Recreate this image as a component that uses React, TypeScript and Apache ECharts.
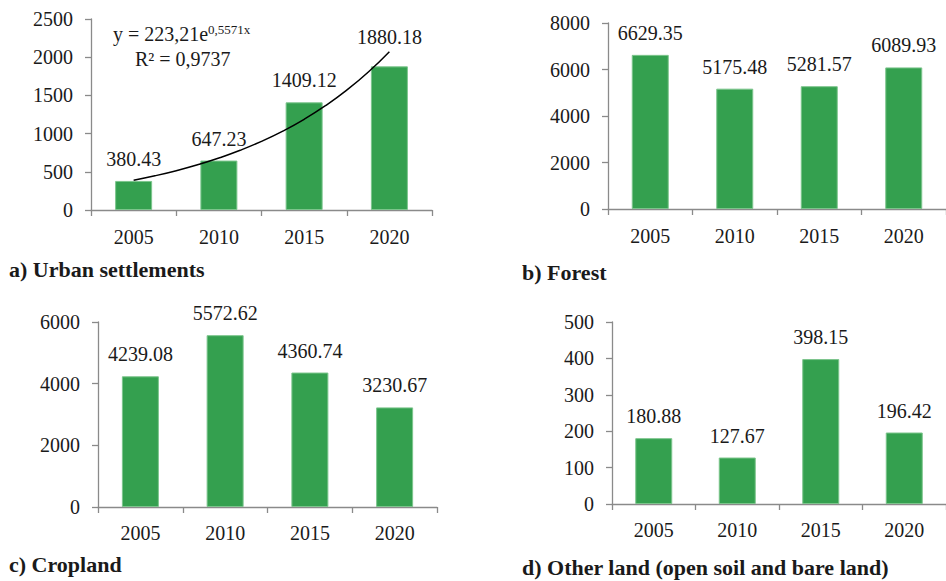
import React, { useEffect, useRef } from "react";
import * as echarts from "echarts";

const years = ["2005", "2010", "2015", "2020"];
const urbanValues = [380.43, 647.23, 1409.12, 1880.18];
const forestValues = [6629.35, 5175.48, 5281.57, 6089.93];
const croplandValues = [4239.08, 5572.62, 4360.74, 3230.67];
const otherValues = [180.88, 127.67, 398.15, 196.42];

const panelTitles = [
  "a) Urban settlements",
  "b) Forest",
  "c) Cropland",
  "d) Other land (open soil and bare land)",
];
const yMax = [2500, 8000, 6000, 500];
const yInterval = [500, 2000, 2000, 100];

// trendline shown on panel a: y = 223,21 e^(0,5571x)
const trendA = 223.21;
const trendB = 0.5571;
const trendXs = [1, 1.25, 1.5, 1.75, 2, 2.25, 2.5, 2.75, 3, 3.25, 3.5, 3.75, 4];

const FONT = "'Liberation Serif', 'Times New Roman', serif";
const TEXT = "#1a1a1a";
const AXIS = "#8a8a8a";
const GREEN = "#34a04f";

export default function App() {
  const ref = useRef<HTMLDivElement>(null);
  useEffect(() => {
    if (!ref.current) return;
    const chart = echarts.init(ref.current, undefined, { renderer: "svg" });
    const grids = [
      { left: 91, top: 19, width: 341, height: 191 },
      { left: 608, top: 23, width: 341, height: 186 },
      { left: 98, top: 322, width: 339, height: 185 },
      { left: 612, top: 322, width: 339, height: 182 },
    ];
    const allValues = [urbanValues, forestValues, croplandValues, otherValues];
    const xLabelMargin = [17, 17, 16, 16];

    const xAxes: any[] = grids.map((_, i) => ({
      type: "category",
      gridIndex: i,
      data: years,
      axisLine: { lineStyle: { color: AXIS, width: 1.3 } },
      axisTick: { show: true, length: 6, lineStyle: { color: AXIS, width: 1.3 } },
      axisLabel: { color: TEXT, fontFamily: FONT, fontSize: 20, margin: xLabelMargin[i] },
    }));
    xAxes.push({
      type: "value",
      gridIndex: 0,
      min: 0.5,
      max: 4.5,
      show: false,
    });

    const yAxes: any[] = grids.map((_, i) => ({
      type: "value",
      gridIndex: i,
      min: 0,
      max: yMax[i],
      interval: yInterval[i],
      splitLine: { show: false },
      axisLine: { show: true, lineStyle: { color: AXIS, width: 1.3 } },
      axisTick: { show: true, length: 6, lineStyle: { color: AXIS, width: 1.3 } },
      axisLabel: {
        color: TEXT,
        fontFamily: FONT,
        fontSize: 20,
        margin: 18,
        formatter: (v: number) => String(v),
      },
    }));

    const series: any[] = allValues.map((vals, i) => ({
      type: "bar",
      xAxisIndex: i,
      yAxisIndex: i,
      barWidth: 37,
      data: vals.map((v, j) =>
        i === 0 && j === 3
          ? { value: v, label: { distance: 19 } }
          : v
      ),
      itemStyle: { color: GREEN, borderColor: "#7cc58c", borderWidth: 1 },
      label: {
        show: true,
        position: "top",
        distance: 12,
        color: TEXT,
        fontFamily: FONT,
        fontSize: 20,
        formatter: (p: any) => p.value.toFixed(2),
      },
    }));

    series.push({
      type: "line",
      xAxisIndex: 4,
      yAxisIndex: 0,
      smooth: true,
      symbol: "none",
      lineStyle: { color: "#000", width: 1.5 },
      data: trendXs.map((x) => [x, trendA * Math.exp(trendB * x)]),
      z: 5,
    });

    const titlePos = [
      [9, 270],
      [522, 273],
      [9, 565],
      [522, 568],
    ];

    const graphic: any[] = panelTitles.map((t, i) => ({
      type: "text",
      left: titlePos[i][0],
      top: titlePos[i][1] - 12,
      style: {
        text: t,
        fill: TEXT,
        font: `bold 22px ${FONT}`,
      },
    }));
    graphic.push(
      {
        type: "text",
        left: 113,
        top: 24,
        style: { text: "y = 223,21e", fill: TEXT, font: `20px ${FONT}` },
      },
      {
        type: "text",
        left: 208,
        top: 23,
        style: { text: "0,5571x", fill: TEXT, font: `13px ${FONT}` },
      },
      {
        type: "text",
        left: 135,
        top: 49,
        style: { text: "R² = 0,9737", fill: TEXT, font: `20px ${FONT}` },
      }
    );

    chart.setOption({
      animation: false,
      backgroundColor: "#ffffff",
      grid: grids,
      xAxis: xAxes,
      yAxis: yAxes,
      series,
      graphic,
    });
    return () => chart.dispose();
  }, []);
  return (
    <div
      ref={ref}
      style={{ position: "fixed", left: 0, top: 0, width: 946, height: 581, background: "#fff" }}
    />
  );
}
